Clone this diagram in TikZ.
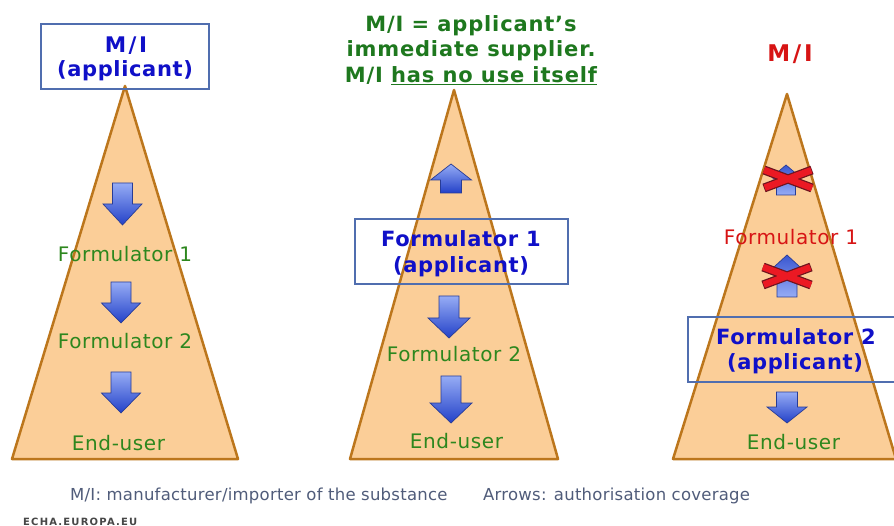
\documentclass[tikz,border=0pt]{standalone}
\usepackage{fontspec}
\setmainfont{DejaVu Sans}
\definecolor{trifill}{RGB}{251,206,152}
\definecolor{tridraw}{RGB}{188,118,28}
\definecolor{boxdraw}{RGB}{80,110,175}
\definecolor{bluetxt}{RGB}{16,16,200}
\definecolor{greentxt}{RGB}{45,135,30}
\definecolor{titlegreen}{RGB}{30,120,30}
\definecolor{redtxt}{RGB}{215,20,20}
\definecolor{foottxt}{RGB}{80,92,122}
\definecolor{arrlight}{RGB}{150,172,245}
\definecolor{arrdark}{RGB}{35,65,200}
\definecolor{arrline}{RGB}{40,60,150}
\definecolor{xred}{RGB}{235,25,35}
\definecolor{xdark}{RGB}{110,20,30}
\tikzset{
  tri/.style={fill=trifill, draw=tridraw, line width=2.5pt, line join=round},
  appbox/.style={draw=boxdraw, line width=1.3pt, fill=none, inner sep=0pt},
  boldblue/.style={text=bluetxt, font=\fontsize{21}{25}\selectfont\bfseries\addfontfeature{LetterSpace=3}, inner sep=0pt, anchor=base},
  greenlbl/.style={text=greentxt, font=\fontsize{20}{24}\selectfont\addfontfeature{LetterSpace=3}, inner sep=0pt, anchor=base},
  redlbl/.style={text=redtxt, font=\fontsize{20}{24}\selectfont\addfontfeature{LetterSpace=3}, inner sep=0pt, anchor=base},
  titlelbl/.style={text=titlegreen, font=\fontsize{21}{25}\selectfont\bfseries\addfontfeature{LetterSpace=4}, inner sep=0pt, anchor=base},
  footlbl/.style={text=foottxt, font=\fontsize{16.5}{20}\selectfont\addfontfeature{LetterSpace=1.5}, inner sep=0pt, anchor=base west},
  blk/.style={top color=arrlight, bottom color=arrdark, draw=arrline, line width=0.7pt, line join=miter},
  blkx/.style={top color=arrdark!80!arrlight, bottom color=arrlight, draw=arrline, line width=0.7pt, line join=miter},
  pics/dnarrow/.style n args={4}{code={
    \path[blk] (-#2,0) -- (#2,0) -- (#2,#3) -- (#1,#3) -- (0,#4) -- (-#1,#3) -- (-#2,#3) -- cycle;}},
  pics/uparrow/.style n args={4}{code={
    \path[blk] (0,0) -- (#1,#3) -- (#2,#3) -- (#2,#4) -- (-#2,#4) -- (-#2,#3) -- (-#1,#3) -- cycle;}},
  pics/housearrow/.style n args={4}{code={
    \path[blkx] (0,0) -- (#1,#3) -- (#1,#3+3) -- (#2,#3+3) -- (#2,#4) -- (-#2,#4) -- (-#2,#3+3) -- (-#1,#3+3) -- (-#1,#3) -- cycle;}},
  pics/redcross/.style={code={
    \draw[xdark, line width=9pt] (-24,-9) -- (24,9) (-24,9) -- (24,-9);
    \draw[xred, line width=6.5pt, shorten >=0.8pt, shorten <=0.8pt] (-24,-9) -- (24,9) (-24,9) -- (24,-9);}}
}
\begin{document}
\begin{tikzpicture}[x=1pt, y=-1pt]
\clip (0,0) rectangle (894,526);
\fill[white] (0,0) rectangle (894,526);

% ---------- panel 1 ----------
\path[tri] (125,86) -- (238,459) -- (12,459) -- cycle;
\node[appbox, minimum width=168pt, minimum height=65pt] (box1) at (125,56.5) {};
\node[boldblue, font=\fontsize{21.5}{25}\selectfont\bfseries\addfontfeature{LetterSpace=12}] (mi1) at (126,53) {M/I};
\node[boldblue] (app1) at (125,77) {(applicant)};
\pic at (122.5,183) {dnarrow={19.5}{10}{21}{42}};
\node[greenlbl] (f11) at (125,262) {Formulator 1};
\pic at (121,282) {dnarrow={19.5}{10}{21}{41}};
\node[greenlbl] (f12) at (125,349) {Formulator 2};
\pic at (121,372) {dnarrow={19.5}{10}{21}{41}};
\node[greenlbl] (eu1) at (118.5,450) {End-user};

% ---------- panel 2 ----------
\node[titlelbl] (t1) at (471,32) {M/I = applicant’s};
\node[titlelbl] (t2) at (471,57) {immediate supplier.};
\node[titlelbl] (t3) at (471,83) {M/I \underline{has no use itself}};
\path[tri] (454,90) -- (558,459) -- (350,459) -- cycle;
\pic at (451,164) {uparrow={20.5}{10.5}{16}{29}};
\node[appbox, minimum width=213pt, minimum height=65pt] (box2) at (461.5,251.5) {};
\node[boldblue] (f21) at (461,247) {Formulator 1};
\node[boldblue] (app2) at (461,273) {(applicant)};
\pic at (449,296) {dnarrow={21}{10}{22}{42}};
\node[greenlbl] (f22) at (454,362) {Formulator 2};
\pic at (451,376) {dnarrow={21}{10}{27}{47}};
\node[greenlbl] (eu2) at (456.5,448) {End-user};

% ---------- panel 3 ----------
\node[text=redtxt, font=\fontsize{23}{27}\selectfont\bfseries\addfontfeature{LetterSpace=12}, inner sep=0pt, anchor=base] (mi3) at (790,62) {M/I};
\path[tri] (787,94) -- (896,459) -- (673,459) -- cycle;
\pic at (786,165) {housearrow={13}{9.5}{11}{30}};
\pic at (788,179) {redcross};
\node[redlbl] (f31) at (791,245) {Formulator 1};
\pic at (787,255) {housearrow={13}{10}{12}{42}};
\pic at (787,276) {redcross};
\node[appbox, minimum width=214pt, minimum height=65pt] (box3) at (795,349.5) {};
\node[boldblue] (f32) at (796,345) {Formulator 2};
\node[boldblue] (app3) at (795,370) {(applicant)};
\pic at (787,392) {dnarrow={20}{10.5}{15}{31}};
\node[greenlbl] (eu3) at (793.5,449) {End-user};

% ---------- footer ----------
\node[footlbl] (fn1) at (70,500) {M/I: manufacturer/importer of the substance};
\node[footlbl] (fn2) at (483,500) {Arrows: authorisation coverage};
\node[text=black!72, font=\fontsize{10}{12}\selectfont\bfseries\addfontfeature{LetterSpace=12}, inner sep=0pt, anchor=base west] (echa) at (23,525) {ECHA.EUROPA.EU};
\end{tikzpicture}
\end{document}
